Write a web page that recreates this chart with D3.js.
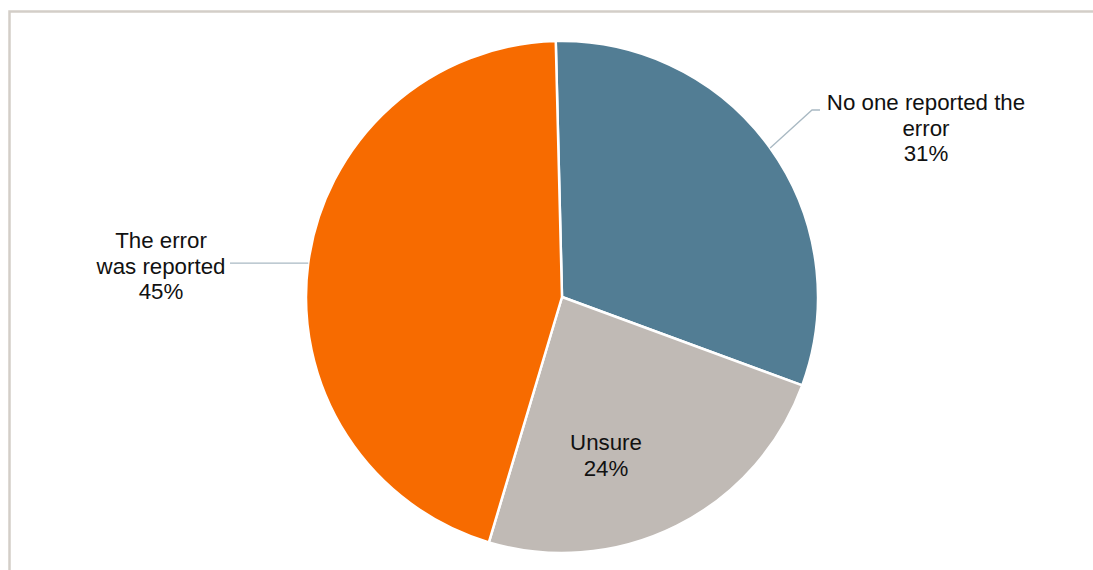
<!DOCTYPE html>
<html>
<head>
<meta charset="utf-8">
<script src="https://cdn.jsdelivr.net/npm/d3@7"></script>
<style>
  html, body { margin: 0; padding: 0; background: #ffffff; }
  svg { display: block; }
  text { font-family: "Liberation Sans", Arial, sans-serif; fill: #111111; }
</style>
</head>
<body>
<svg id="chart" width="1093" height="570"></svg>
<script>
// Survey answers: was the error reported?
const categories = ["No one reported the error", "Unsure", "The error was reported"];
const values = [31, 24, 45];
const labelLines = [["No one reported the", "error", "31%"], ["Unsure", "24%"], ["The error", "was reported", "45%"]];
const colors = ["#527d94", "#c0bab5", "#f76b00"];

const W = 1093, H = 570;
const cx = 562, cy = 297, radius = 256;
const rot = -1.4 * Math.PI / 180;   // pie is turned slightly anticlockwise

const svg = d3.select("#chart");

// chart frame (runs off the right and bottom edges)
svg.append("rect")
  .attr("x", 9.5).attr("y", 11.5)
  .attr("width", W + 20).attr("height", H + 20)
  .attr("fill", "none")
  .attr("stroke", "#d3cec8")
  .attr("stroke-width", 2.5);

const pie = d3.pie().sort(null).value(d => d).startAngle(rot).endAngle(rot + 2 * Math.PI);
const arcs = pie(values);
const arc = d3.arc().innerRadius(0).outerRadius(radius);
const edge = d3.arc().innerRadius(radius).outerRadius(radius);

const g = svg.append("g").attr("transform", `translate(${cx},${cy})`);

g.selectAll("path.slice")
  .data(arcs)
  .join("path")
  .attr("class", "slice")
  .attr("d", arc)
  .attr("fill", (d, i) => colors[i])
  .attr("stroke", "#ffffff")
  .attr("stroke-width", 2.5)
  .attr("stroke-linejoin", "round");

// label anchor points relative to the pie centre (first baseline)
const labelPos = [
  { x: 364, y: -187 },
  { x: 44, y: 153 },
  { x: -401, y: -49 }
];

const lead = "#a9b9c3";
// right-hand leader: slice edge -> elbow -> label
{
  const p0 = edge.centroid(arcs[0]);
  const pts = [p0, [250, -187], [258, -187]];
  g.append("path")
    .attr("d", d3.line()(pts))
    .attr("fill", "none").attr("stroke", lead).attr("stroke-width", 1.3);
}
// left-hand leader: slice edge -> label
{
  const p0 = edge.centroid(arcs[2]);
  const pts = [p0, [-332, p0[1]]];
  g.append("path")
    .attr("d", d3.line()(pts))
    .attr("fill", "none").attr("stroke", lead).attr("stroke-width", 1.3);
}

const lineH = 25.5;
arcs.forEach((a, i) => {
  const p = labelPos[i];
  const t = g.append("text")
    .attr("text-anchor", "middle")
    .attr("font-size", 22.3);
  labelLines[i].forEach((s, k) => {
    t.append("tspan")
      .attr("x", p.x)
      .attr("y", p.y + k * lineH)
      .text(s);
  });
});
</script>
</body>
</html>
